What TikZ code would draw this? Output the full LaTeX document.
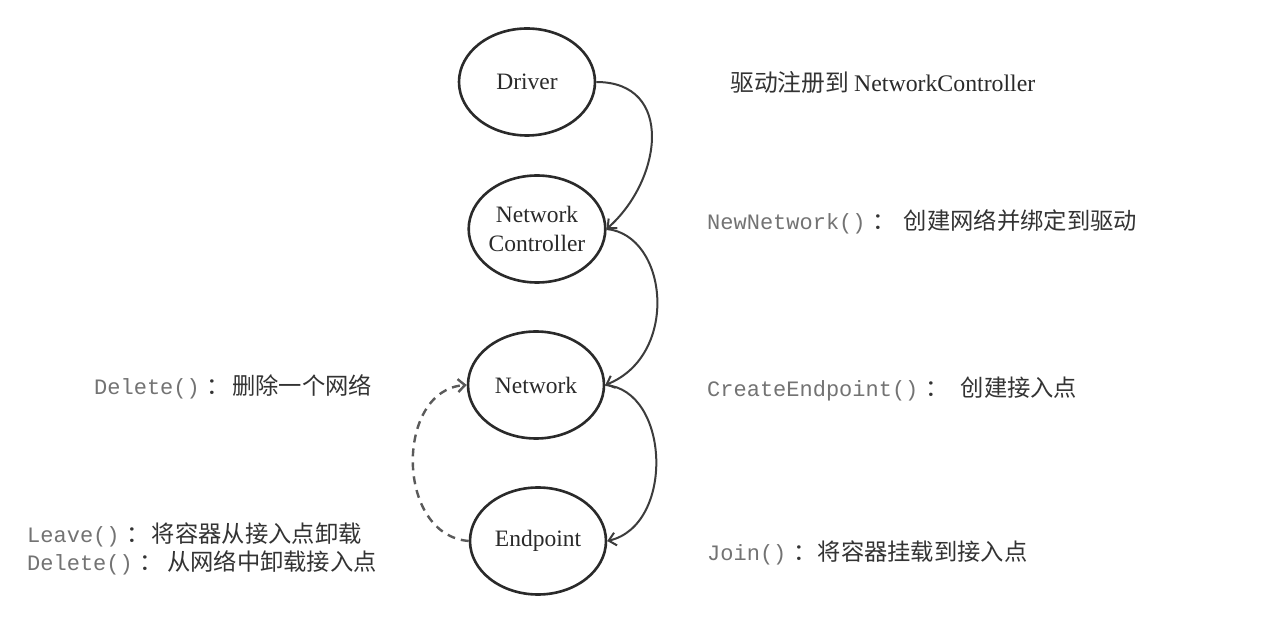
\documentclass[tikz,border=0pt]{standalone}
\usepackage{fontspec}
\setmainfont{Liberation Serif}
\newfontfamily\cjk{Noto Sans CJK SC}
\newfontfamily\codef{Liberation Mono}
\usetikzlibrary{shapes.geometric,arrows.meta}
\definecolor{ink}{HTML}{2A2A2A}
\definecolor{cjkc}{HTML}{333333}
\definecolor{wire}{HTML}{3C3C3C}
\definecolor{dashc}{HTML}{5A5A5A}
\definecolor{codec}{HTML}{737373}
\newcommand{\lblline}[3]{{\codef\fontsize{22}{26}\selectfont\color{codec}#1}\hspace{7pt}{\cjk\fontsize{23.3}{27}\selectfont\color{cjkc}：}\hspace{#2}{\cjk\fontsize{23.3}{27}\selectfont\color{cjkc}#3}}
\tikzset{
  ell/.style={ellipse, draw=ink, line width=2.6pt, minimum width=136pt, minimum height=107pt, inner sep=0pt, font=\fontsize{23.5}{28}\selectfont, text=ink, align=center},
  conn/.style={draw=wire, line width=2pt, -{Straight Barb[length=7pt,width=13pt]}},
  dconn/.style={draw=dashc, line width=2.4pt, dash pattern=on 8pt off 6pt, -{Straight Barb[length=7pt,width=13pt]}},
  txt/.style={anchor=west, inner sep=0pt},
  ttl/.style={anchor=west, inner sep=0pt, font=\fontsize{23.8}{27}\selectfont, text=ink}
}
\begin{document}
\begin{tikzpicture}[x=1pt,y=-1pt]
\useasboundingbox[fill=white] (0,0) rectangle (1267,617);
\node[ell] (driver) at (527,82) {Driver};
\node[ell] (nc) at (537,229) {Network\\[1pt]Controller};
\node[ell] (net) at (536,385) {Network};
\node[ell] (ep) at (538,541) {Endpoint};

\draw[conn] (driver.east) .. controls (675,82) and (662,180) .. (nc.east);
\draw[conn] (nc.east) .. controls (668,235) and (680,355) .. (net.east);
\draw[conn] (net.east) .. controls (670,390) and (675,525) .. (ep.east);
\draw[dconn] (ep.west) .. controls (395,535) and (395,390) .. (net.west);

\node[ttl] (t1) at (730,82) {{\cjk\color{cjkc}驱动注册到}\hspace{5pt}NetworkController};
\node[txt] (t2) at (707,222) {\lblline{NewNetwork()}{8pt}{创建网络并绑定到驱动}};
\node[txt] (t3) at (707,389) {\lblline{CreateEndpoint()}{12pt}{创建接入点}};
\node[txt] (t4) at (707,553) {\lblline{Join()}{1pt}{将容器挂载到接入点}};
\node[txt] (t5) at (94,387) {\lblline{Delete()}{2pt}{删除一个网络}};
\node[txt] (t6) at (27,535) {\lblline{Leave()}{2pt}{将容器从接入点卸载}};
\node[txt] (t7) at (27,563) {\lblline{Delete()}{4pt}{从网络中卸载接入点}};
\end{tikzpicture}
\end{document}
